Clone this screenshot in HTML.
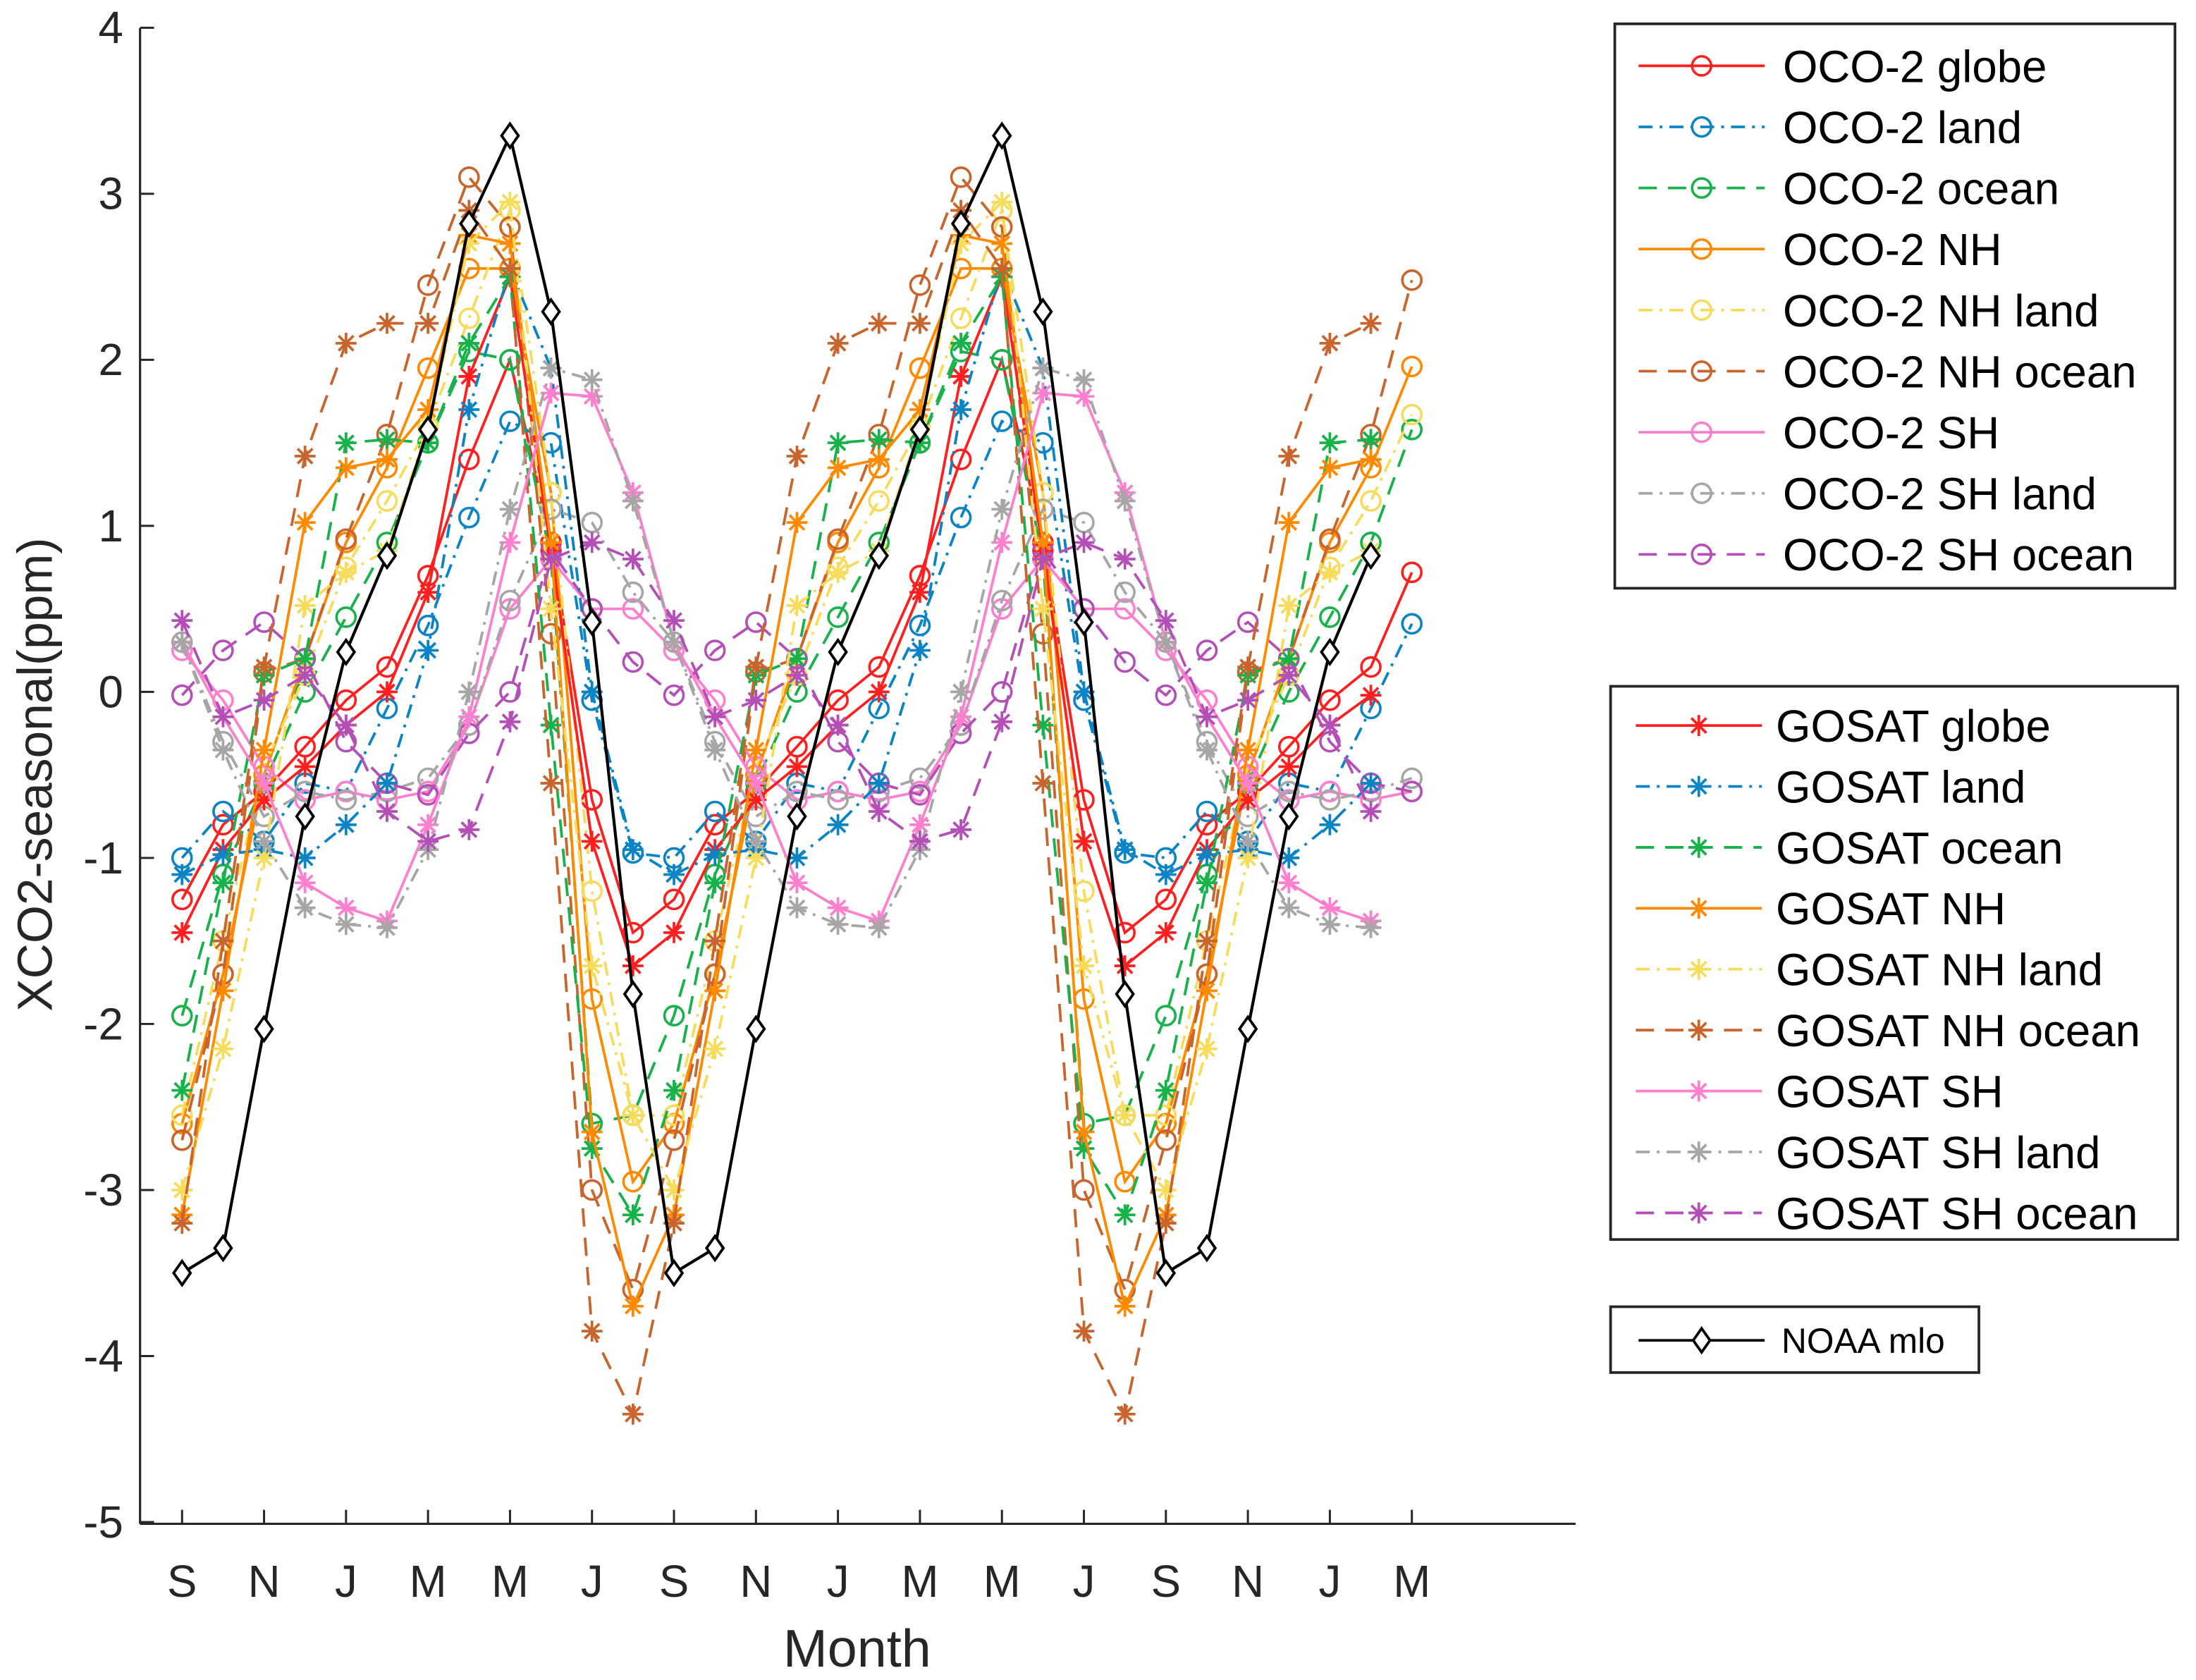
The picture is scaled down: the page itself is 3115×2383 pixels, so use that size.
<!DOCTYPE html>
<html><head><meta charset="utf-8"><style>
html,body{margin:0;padding:0;background:#fff;}
svg{display:block;font-family:"Liberation Sans",Arial,sans-serif;}
</style></head><body>
<svg id="chart" width="3115" height="2383" viewBox="0 0 1568 1199.5" xmlns="http://www.w3.org/2000/svg">
<rect x="0" y="0" width="1568" height="1200" fill="#fff"/>
<g id="axes"></g>
<g id="series"></g>
<g id="legends"></g>
</svg>
<script>
const monthLabels = ["S","N","J","M","M","J","S","N","J","M","M","J","S","N","J","M"];
const yTicks = [-5,-4,-3,-2,-1,0,1,2,3,4];
// OCO-2 series: month index 0..30 (Sep .. Mar)
const ocoGlobe   = [-1.25,-0.8,-0.6,-0.33,-0.05,0.15,0.7,1.4,2.0,0.9,-0.65,-1.45, -1.25,-0.8,-0.6,-0.33,-0.05,0.15,0.7,1.4,2.0,0.9,-0.65,-1.45, -1.25,-0.8,-0.6,-0.33,-0.05,0.15,0.72];
const ocoLand    = [-1.0,-0.72,-0.9,-0.55,-0.6,-0.1,0.4,1.05,1.63,1.5,-0.05,-0.97, -1.0,-0.72,-0.9,-0.55,-0.6,-0.1,0.4,1.05,1.63,1.5,-0.05,-0.97, -1.0,-0.72,-0.9,-0.55,-0.6,-0.1,0.41];
const ocoOcean   = [-1.95,-1.1,-0.55,0.0,0.45,0.9,1.5,2.05,2.0,0.8,-2.6,-2.55, -1.95,-1.1,-0.55,0.0,0.45,0.9,1.5,2.05,2.0,0.8,-2.6,-2.55, -1.95,-1.1,-0.55,0.0,0.45,0.9,1.58];
const ocoNH      = [-2.6,-1.7,-0.5,0.2,0.9,1.35,1.95,2.55,2.55,1.2,-1.85,-2.95, -2.6,-1.7,-0.5,0.2,0.9,1.35,1.95,2.55,2.55,1.2,-1.85,-2.95, -2.6,-1.7,-0.5,0.2,0.9,1.35,1.96];
const ocoNHLand  = [-2.55,-1.5,-0.45,0.1,0.75,1.15,1.6,2.25,2.9,1.2,-1.2,-2.55, -2.55,-1.5,-0.45,0.1,0.75,1.15,1.6,2.25,2.9,1.2,-1.2,-2.55, -2.55,-1.5,-0.45,0.1,0.75,1.15,1.67];
const ocoNHOcean = [-2.7,-1.7,0.12,0.2,0.92,1.55,2.45,3.1,2.8,0.35,-3.0,-3.6, -2.7,-1.7,0.12,0.2,0.92,1.55,2.45,3.1,2.8,0.35,-3.0,-3.6, -2.7,-1.7,0.12,0.2,0.92,1.55,2.48];
const ocoSH      = [0.25,-0.05,-0.45,-0.65,-0.6,-0.65,-0.6,-0.2,0.5,0.8,0.5,0.5, 0.25,-0.05,-0.45,-0.65,-0.6,-0.65,-0.6,-0.2,0.5,0.8,0.5,0.5, 0.25,-0.05,-0.45,-0.65,-0.6,-0.65,-0.6];
const ocoSHLand  = [0.3,-0.3,-0.75,-0.6,-0.65,-0.6,-0.52,-0.2,0.55,1.1,1.02,0.6, 0.3,-0.3,-0.75,-0.6,-0.65,-0.6,-0.52,-0.2,0.55,1.1,1.02,0.6, 0.3,-0.3,-0.75,-0.6,-0.65,-0.6,-0.52];
const ocoSHOcean = [-0.02,0.25,0.42,0.2,-0.3,-0.55,-0.62,-0.25,0.0,0.85,0.5,0.18, -0.02,0.25,0.42,0.2,-0.3,-0.55,-0.62,-0.25,0.0,0.85,0.5,0.18, -0.02,0.25,0.42,0.2,-0.3,-0.55,-0.6];
// GOSAT series: month index 0..29 (Sep .. Feb)
const gosGlobe   = [-1.45,-0.95,-0.65,-0.45,-0.2,0.0,0.6,1.9,2.5,0.85,-0.9,-1.65, -1.45,-0.95,-0.65,-0.45,-0.2,0.0,0.6,1.9,2.5,0.85,-0.9,-1.65, -1.45,-0.95,-0.65,-0.45,-0.2,-0.02];
const gosLand    = [-1.1,-0.98,-0.95,-1.0,-0.8,-0.55,0.25,1.7,2.55,1.95,0.0,-0.95, -1.1,-0.98,-0.95,-1.0,-0.8,-0.55,0.25,1.7,2.55,1.95,0.0,-0.95, -1.1,-0.98,-0.95,-1.0,-0.8,-0.55];
const gosOcean   = [-2.4,-1.15,0.1,0.2,1.5,1.52,1.5,2.1,2.5,-0.2,-2.75,-3.15, -2.4,-1.15,0.1,0.2,1.5,1.52,1.5,2.1,2.5,-0.2,-2.75,-3.15, -2.4,-1.15,0.1,0.2,1.5,1.52];
const gosNH      = [-3.15,-1.8,-0.35,1.02,1.35,1.4,1.7,2.75,2.7,0.9,-2.65,-3.7, -3.15,-1.8,-0.35,1.02,1.35,1.4,1.7,2.75,2.7,0.9,-2.65,-3.7, -3.15,-1.8,-0.35,1.02,1.35,1.4];
const gosNHLand  = [-3.0,-2.15,-1.0,0.52,0.72,0.85,1.6,2.7,2.95,0.5,-1.65,-2.55, -3.0,-2.15,-1.0,0.52,0.72,0.85,1.6,2.7,2.95,0.5,-1.65,-2.55, -3.0,-2.15,-1.0,0.52,0.72,0.85];
const gosNHOcean = [-3.2,-1.5,0.15,1.42,2.1,2.22,2.22,2.9,2.55,-0.55,-3.85,-4.35, -3.2,-1.5,0.15,1.42,2.1,2.22,2.22,2.9,2.55,-0.55,-3.85,-4.35, -3.2,-1.5,0.15,1.42,2.1,2.22];
const gosSH      = [0.3,-0.15,-0.55,-1.15,-1.3,-1.38,-0.8,-0.15,0.9,1.8,1.78,1.2, 0.3,-0.15,-0.55,-1.15,-1.3,-1.38,-0.8,-0.15,0.9,1.8,1.78,1.2, 0.3,-0.15,-0.55,-1.15,-1.3,-1.38];
const gosSHLand  = [0.3,-0.35,-0.9,-1.3,-1.4,-1.42,-0.95,0.0,1.1,1.95,1.88,1.15, 0.3,-0.35,-0.9,-1.3,-1.4,-1.42,-0.95,0.0,1.1,1.95,1.88,1.15, 0.3,-0.35,-0.9,-1.3,-1.4,-1.42];
const gosSHOcean = [0.43,-0.15,-0.05,0.1,-0.2,-0.72,-0.9,-0.83,-0.18,0.8,0.9,0.8, 0.43,-0.15,-0.05,0.1,-0.2,-0.72,-0.9,-0.83,-0.18,0.8,0.9,0.8, 0.43,-0.15,-0.05,0.1,-0.2,-0.72];
const noaaMlo    = [-3.5,-3.35,-2.03,-0.75,0.24,0.82,1.58,2.82,3.35,2.29,0.42,-1.82, -3.5,-3.35,-2.03,-0.75,0.24,0.82,1.58,2.82,3.35,2.29,0.42,-1.82, -3.5,-3.35,-2.03,-0.75,0.24,0.82];

const NS="http://www.w3.org/2000/svg";
function mk(tag, attrs, parent){const e=document.createElementNS(NS,tag);for(const k in attrs)e.setAttribute(k,attrs[k]);if(parent)parent.appendChild(e);return e;}
const X0=130, DX=29.27, YZ=494, DY=118.55;
function xs(i){return X0+DX*i;}
function ys(v){return YZ-DY*v;}

const C={red:"#ff1f1f",blue:"#0b84c6",green:"#17b24a",orange:"#ff8a00",yellow:"#f7dc5c",brown:"#c8642c",pink:"#ff7fcf",gray:"#a6a6a6",purple:"#b44fb8"};
const DS={solid:"none",dashdot:"10 5 2 5",dash:"13 8"};
const seriesList=[
 ["oco2-globe","OCO-2 globe",ocoGlobe,C.red,"solid","o",1],
 ["oco2-land","OCO-2 land",ocoLand,C.blue,"dashdot","o",1],
 ["oco2-ocean","OCO-2 ocean",ocoOcean,C.green,"dash","o",1],
 ["oco2-nh","OCO-2 NH",ocoNH,C.orange,"solid","o",1],
 ["oco2-nh-land","OCO-2 NH land",ocoNHLand,C.yellow,"dashdot","o",1],
 ["oco2-nh-ocean","OCO-2 NH ocean",ocoNHOcean,C.brown,"dash","o",1],
 ["oco2-sh","OCO-2 SH",ocoSH,C.pink,"solid","o",1],
 ["oco2-sh-land","OCO-2 SH land",ocoSHLand,C.gray,"dashdot","o",1],
 ["oco2-sh-ocean","OCO-2 SH ocean",ocoSHOcean,C.purple,"dash","o",1],
 ["gosat-globe","GOSAT globe",gosGlobe,C.red,"solid","*",2],
 ["gosat-land","GOSAT land",gosLand,C.blue,"dashdot","*",2],
 ["gosat-ocean","GOSAT ocean",gosOcean,C.green,"dash","*",2],
 ["gosat-nh","GOSAT NH",gosNH,C.orange,"solid","*",2],
 ["gosat-nh-land","GOSAT NH land",gosNHLand,C.yellow,"dashdot","*",2],
 ["gosat-nh-ocean","GOSAT NH ocean",gosNHOcean,C.brown,"dash","*",2],
 ["gosat-sh","GOSAT SH",gosSH,C.pink,"solid","*",2],
 ["gosat-sh-land","GOSAT SH land",gosSHLand,C.gray,"dashdot","*",2],
 ["gosat-sh-ocean","GOSAT SH ocean",gosSHOcean,C.purple,"dash","*",2],
 ["noaa-mlo","NOAA mlo",noaaMlo,"#000","solid","d",3]
];

function marker(g,type,x,y,color){
  if(type==="o"){mk("circle",{cx:x,cy:y,r:6.8,fill:"none",stroke:color,"stroke-width":1.8},g);}
  else if(type==="*"){const r=7.5,d=5.3;
    mk("path",{d:`M${x-r} ${y}H${x+r}M${x} ${y-r}V${y+r}M${x-d} ${y-d}L${x+d} ${y+d}M${x-d} ${y+d}L${x+d} ${y-d}`,stroke:color,"stroke-width":1.9,fill:"none"},g);}
  else {const r=8.5;mk("path",{d:`M${x} ${y-r}L${x+6} ${y}L${x} ${y+r}L${x-6} ${y}Z`,fill:"#fff",stroke:color,"stroke-width":1.9},g);}
}

// axes
const ax=document.getElementById("axes");
const yAxis=mk("line",{x1:100,y1:20,x2:100,y2:1088,stroke:"#262626","stroke-width":1.6},ax);


const xAxis=mk("line",{x1:100,y1:1088,x2:1125,y2:1088,stroke:"#262626","stroke-width":1.6},ax);


yTicks.forEach(v=>{
  const y=ys(v);
  mk("line",{x1:100,y1:y,x2:110,y2:y,stroke:"#262626","stroke-width":1.5},ax);
  const t=mk("text",{x:88,y:y+11,"text-anchor":"end","font-size":32,fill:"#262626"},ax);
  t.textContent=String(v);
  
  
});
monthLabels.forEach((m,k)=>{
  const x=xs(2*k);
  mk("line",{x1:x,y1:1088,x2:x,y2:1078,stroke:"#262626","stroke-width":1.5},ax);
  const t=mk("text",{x:x,y:1140,"text-anchor":"middle","font-size":32,fill:"#262626"},ax);
  t.textContent=m;
  
  
});
const xt=mk("text",{x:612,y:1190,"text-anchor":"middle","font-size":38,fill:"#262626"},ax);
xt.textContent="Month";


const yt=mk("text",{x:0,y:0,"text-anchor":"middle","font-size":35,fill:"#262626",transform:"translate(37,553) rotate(-90)"},ax);
yt.textContent="XCO2-seasonal(ppm)";



// series
const sg=document.getElementById("series");
seriesList.forEach(s=>{
  const g=mk("g",{},sg);
  
  
  const pts=s[2].map((v,i)=>xs(i)+","+ys(v)).join(" ");
  const attrs={points:pts,fill:"none",stroke:s[3],"stroke-width":s[5]==="d"?2.1:1.9};
  if(DS[s[4]]!=="none")attrs["stroke-dasharray"]=DS[s[4]];
  mk("polyline",attrs,g);
  s[2].forEach((v,i)=>marker(g,s[5],xs(i),ys(v),s[3]));
});

// legends
const lg=document.getElementById("legends");
function legendBox(name,x,y,w,h){const r=mk("rect",{x:x,y:y,width:w,height:h,fill:"#fff",stroke:"#262626","stroke-width":1.9},lg);
  
  }
legendBox("legend-oco2",1153,17,400,403);
legendBox("legend-gosat",1150,490,405,395);
legendBox("legend-noaa",1150,933,263,47);
function entry(s,lx,y,tx,fs){
  const g=mk("g",{},lg);
  
  
  const a={x1:lx,y1:y,x2:lx+90,y2:y,stroke:s[3],"stroke-width":1.9};
  if(DS[s[4]]!=="none")a["stroke-dasharray"]=DS[s[4]];
  mk("line",a,g);
  marker(g,s[5],lx+45,y,s[3]);
  const t=mk("text",{x:tx,y:y+fs*0.36,"font-size":fs,fill:"#000"},g);
  t.textContent=s[1];
}
seriesList.slice(0,9).forEach((s,i)=>entry(s,1170,47+43.6*i,1273,32));
seriesList.slice(9,18).forEach((s,i)=>entry(s,1168,518+43.5*i,1268,32));
entry(seriesList[18],1170,957,1272,25);
</script>
</body></html>
